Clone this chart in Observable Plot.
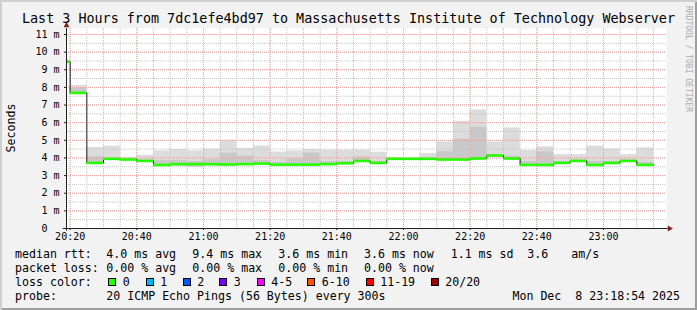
<!DOCTYPE html>
<html><head><meta charset="utf-8">
<script src="https://cdn.jsdelivr.net/npm/d3@7"></script>
<script src="https://cdn.jsdelivr.net/npm/@observablehq/plot@0.6"></script>
<style>
html,body{margin:0;padding:0;background:#fff;}
#chart{position:relative;width:697px;height:310px;background:#f2f2f2;overflow:hidden;font-family:"DejaVu Sans Mono",monospace;color:#000;
  box-shadow: inset 2px 2px 0 #cfcfcf, inset -2px -2px 0 #9e9e9e;}
#chart svg{position:absolute;left:0;top:0;overflow:visible;}
.t{position:absolute;white-space:pre;font-size:11.6px;line-height:14px;}
.box{position:absolute;width:8px;height:8px;box-sizing:border-box;border:1px solid #000;}
</style></head><body><div id="chart"></div>
<script>
// ---- data ----
const stepStarts = ["20:15","20:20","20:25","20:30","20:35","20:40","20:45","20:50","20:55","21:00","21:05","21:10",
  "21:15","21:20","21:25","21:30","21:35","21:40","21:45","21:50","21:55","22:00","22:05","22:10",
  "22:15","22:20","22:25","22:30","22:35","22:40","22:45","22:50","22:55","23:00","23:05","23:10"];
const medianMs = [9.45,7.69,3.72,3.95,3.91,3.83,3.60,3.65,3.65,3.65,3.63,3.65,
  3.68,3.62,3.62,3.62,3.65,3.70,3.83,3.72,3.95,3.95,3.95,3.91,
  3.91,3.97,4.14,3.97,3.61,3.61,3.72,3.83,3.61,3.72,3.83,3.61];
const smokeLo = [9.40,7.60,3.68,3.90,3.85,3.78,3.55,3.53,3.49,3.55,3.55,3.58,
  3.60,3.55,3.55,3.55,3.58,3.62,3.75,3.65,3.90,3.90,3.90,3.85,
  3.85,3.90,4.05,3.90,3.55,3.50,3.65,3.75,3.50,3.62,3.75,3.55];
const smokeMid = [9.50,7.95,4.06,4.00,3.95,3.90,3.85,3.85,3.80,3.90,4.27,4.10,
  3.85,3.75,3.95,4.28,3.80,3.80,4.05,3.80,3.98,3.97,4.00,4.35,
  5.06,5.74,4.20,4.10,3.80,4.35,3.80,3.90,3.80,3.80,3.90,3.75];
const smokeHi = [9.56,8.12,4.59,4.67,4.03,4.15,4.40,4.48,4.40,4.50,5.00,4.55,
  4.68,4.34,4.40,4.48,4.44,4.44,4.44,4.33,4.02,4.00,4.25,4.91,
  6.08,6.72,4.91,5.70,4.42,4.63,4.19,4.19,4.67,4.51,4.19,4.57];
const xTickLabels = ["20:20","20:40","21:00","21:20","21:40","22:00","22:20","22:40","23:00"];
const yTickValues = [0,1,2,3,4,5,6,7,8,9,10,11];
const yTickLabels = ["0\u00a0\u00a0","1 m","2 m","3 m","4 m","5 m","6 m","7 m","8 m","9 m","10 m","11 m"];
const titleText = "Last 3 Hours from 7dc1efe4bd97 to Massachusetts Institute of Technology Webserver";
const yLabel = "Seconds";
const rrdText = "RRDTOOL / TOBI OETIKER";
const rttStats = ["4.0 ms avg","9.4 ms max","3.6 ms min","3.6 ms now","1.1 ms sd","3.6","am/s"];
const lossStats = ["0.00 % avg","0.00 % max","0.00 % min","0.00 % now"];
const lossLabels = ["0","1","2","3","4-5","6-10","11-19","20/20"];
const lossColors = ["#26ff00","#00b8ff","#0059ff","#7e00ff","#ff00ff","#ff5500","#ff0000","#a10000"];
const probeText = "20 ICMP Echo Pings (56 Bytes) every 300s";
const dateText = "Mon Dec  8 23:18:54 2025";
const rangeStart = "20:18:54", rangeEnd = "23:18:54";
const yMax = 11.34;

// ---- build ----
const toDate = s => new Date(`2025-12-08T${s.length === 5 ? s + ":00" : s}Z`);
const start = toDate(rangeStart), end = toDate(rangeEnd);
const MIN = 60000;
const steps = stepStarts.map((s, i) => {
  const t0 = toDate(s);
  return {t0, t1: new Date(+t0 + 5 * MIN), med: medianMs[i], lo: smokeLo[i], mid: smokeMid[i], hi: smokeHi[i]};
});
const linePts = steps.map(d => ({t: d.t0, v: d.med})).concat([{t: steps[steps.length - 1].t1, v: medianMs[medianMs.length - 1]}]);
const majorX = xTickLabels.map(toDate);
const minorX = d3.utcMinute.every(5).range(toDate("20:20"), toDate("23:16"));
const minorY = d3.range(0.5, 11.01, 0.5);
const majorY = yTickValues.filter(v => v > 0);

const plot = Plot.plot({
  width: 697, height: 246,
  marginLeft: 66, marginRight: 31, marginTop: 28, marginBottom: 18,
  x: {type: "utc", domain: [start, end]},
  y: {domain: [0, yMax]},
  style: {fontFamily: "DejaVu Sans Mono", fontSize: "10px", background: "transparent", color: "#000", overflow: "visible"},
  marks: [
    Plot.frame({fill: "#ffffff", stroke: "none"}),
    Plot.rect(steps, {x1: "t0", x2: "t1", y1: "lo", y2: "hi", fill: "#dcdcdc", clip: true}),
    Plot.rect(steps, {x1: "t0", x2: "t1", y1: "lo", y2: "mid", fill: "#c8c8c8", clip: true}),
    Plot.ruleX(minorX, {stroke: "#c4c4c4", strokeDasharray: "1,1"}),
    Plot.ruleY(minorY, {stroke: "#c4c4c4", strokeDasharray: "1,1"}),
    Plot.ruleX(majorX, {stroke: "#eba3a3", strokeDasharray: "1,1"}),
    Plot.ruleY(majorY, {stroke: "#eba3a3", strokeDasharray: "1,1"}),
    Plot.line(linePts, {x: "t", y: "v", curve: "step-after", stroke: "#202020", strokeWidth: 1, clip: true}),
    Plot.ruleY(steps, {y: "med", x1: "t0", x2: "t1", stroke: "#26ff00", strokeWidth: 2.6, clip: true}),
    Plot.ruleY([0], {x1: new Date(+start - MIN), x2: new Date(+end + 0.5 * MIN), stroke: "#1f1f1f"}),
    Plot.ruleX([start], {y1: -0.15, y2: yMax, stroke: "#1f1f1f"}),
    Plot.dot([{t: end, v: 0}], {x: "t", y: "v", symbol: "triangle", r: 2.2, fill: "#801f1f", stroke: "none", rotate: 90, dx: 3}),
    Plot.dot([{t: start, v: yMax}], {x: "t", y: "v", symbol: "triangle", r: 2.2, fill: "#801f1f", stroke: "none", dy: -3}),
    Plot.axisX({ticks: majorX, tickFormat: d => xTickLabels[majorX.findIndex(m => +m === +d)], tickSize: 2, tickPadding: 2, fontSize: 10, label: null, stroke: "#1f1f1f"}),
    Plot.axisY({ticks: yTickValues, tickFormat: d => yTickLabels[yTickValues.indexOf(d)], tickSize: 2, tickPadding: 5, fontSize: 10, label: null, stroke: "#1f1f1f"})
  ]
});

const chart = document.getElementById("chart");
chart.appendChild(plot);

function addText(txt, x, top, extra) {
  const s = document.createElement("div");
  s.className = "t";
  s.textContent = txt;
  s.style.left = x + "px";
  s.style.top = top + "px";
  if (extra) Object.assign(s.style, extra);
  chart.appendChild(s);
  return s;
}
// title
addText(titleText, 0, 11, {width: "697px", textAlign: "center", fontSize: "13.4px", lineHeight: "16px"});
// y label
addText(yLabel, 11, 128, {transform: "translate(-50%,-50%) rotate(-90deg)"});
// rrdtool watermark
addText(rrdText, 688, 58.5, {transform: "translate(-50%,-50%) rotate(90deg)", fontSize: "8px", color: "#ababab"});

// legend
const rowTop = [247, 261, 275, 289];
const statX = [106.3, 192.3, 278.3, 364, 450.7, 527.3, 571.3];
addText("median rtt:", 15, rowTop[0]);
rttStats.forEach((t, i) => addText(t, statX[i], rowTop[0]));
addText("packet loss:", 15, rowTop[1]);
lossStats.forEach((t, i) => addText(t, statX[i], rowTop[1]));
addText("loss color:", 15, rowTop[2]);
const boxX = [108.3, 145.7, 182.7, 219.3, 256.7, 307.3, 365.7, 430.7];
lossLabels.forEach((t, i) => {
  const b = document.createElement("div");
  b.className = "box";
  b.style.left = boxX[i] + "px";
  b.style.top = "277.5px";
  b.style.background = lossColors[i];
  chart.appendChild(b);
  addText(t, boxX[i] + 14.5, rowTop[2]);
});
addText("probe:", 15, rowTop[3]);
addText(probeText, 106.3, rowTop[3]);
addText(dateText, 0, rowTop[3], {left: "auto", right: "17px"});
</script></body></html>
